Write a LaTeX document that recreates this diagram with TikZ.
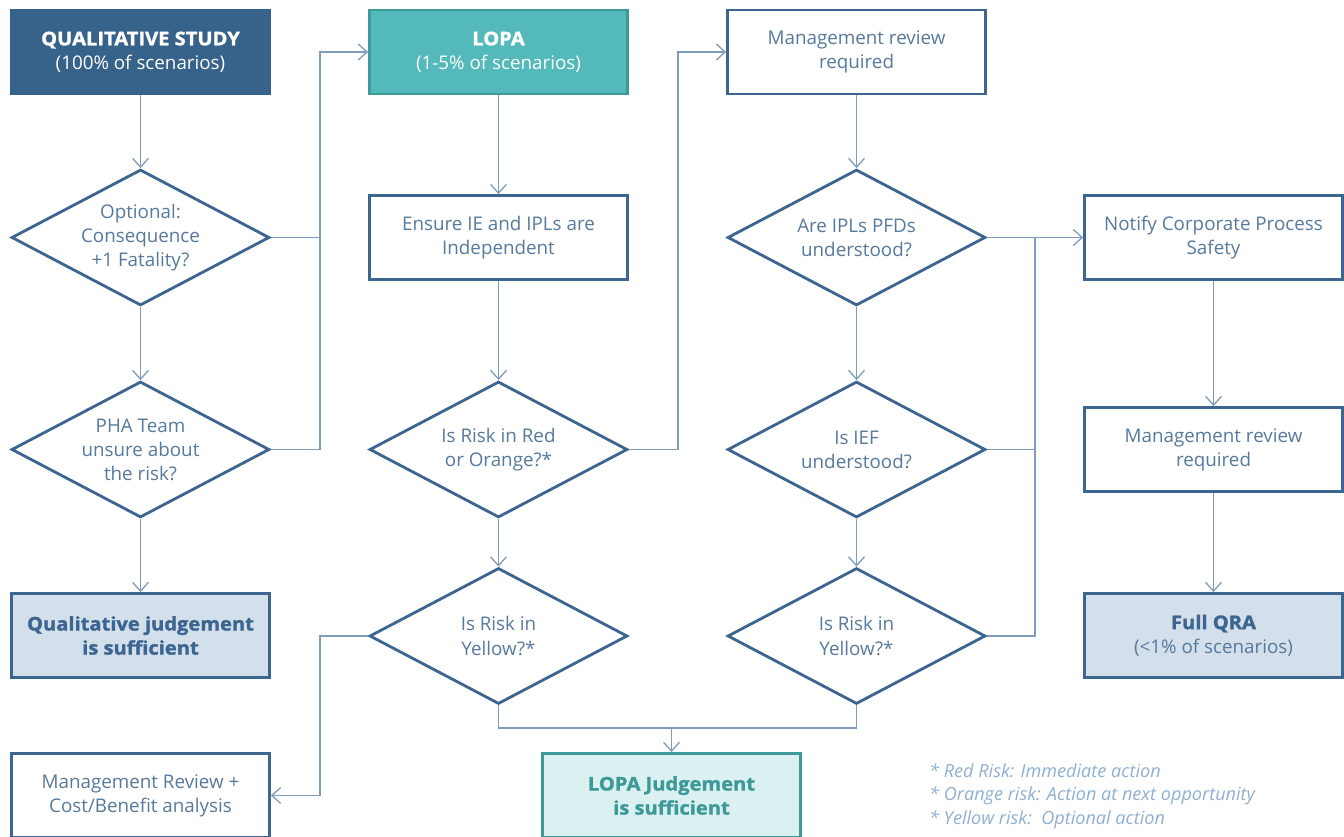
\documentclass[tikz,border=0pt]{standalone}
\usepackage{fontspec}
\setmainfont{Open Sans}[BoldFeatures={FakeBold=1.5,FakeStretch=1.07}]
\usetikzlibrary{shapes.geometric,arrows.meta}

\definecolor{darkblue}{HTML}{37628A}
\definecolor{edgeblue}{HTML}{3C6590}
\definecolor{txtblue}{HTML}{56799C}
\definecolor{lineblue}{HTML}{7E9DBC}
\definecolor{teal}{HTML}{53B9BB}
\definecolor{tealedge}{HTML}{3E9A98}
\definecolor{paleblue}{HTML}{D3DFEB}
\definecolor{paleteal}{HTML}{DBF0F1}
\definecolor{notecol}{HTML}{8FAFD1}

\begin{document}
\begin{tikzpicture}[x=0.02cm,y=-0.02cm,
    font=\fontsize{10.7}{13.7}\selectfont,
    box/.style={draw=edgeblue,line width=1.6pt,fill=white,text=txtblue,align=center,
                minimum width=5.16cm,minimum height=1.68cm,inner sep=2pt},
    startbox/.style={box,draw=darkblue,fill=darkblue,text=white},
    lopabox/.style={box,draw=tealedge,fill=teal,text=white},
    endbox/.style={box,fill=paleblue,text=edgeblue},
    lopaend/.style={box,draw=tealedge,fill=paleteal,text=tealedge},
    decision/.style={diamond,aspect=1.9,draw=edgeblue,line width=1.6pt,fill=white,
                text=txtblue,align=center,minimum width=5.16cm,minimum height=2.72cm,inner sep=0pt},
    line/.style={draw=lineblue,line width=0.75pt},
    conn/.style={line,-{Straight Barb[length=5pt,width=9pt]}}]

    \useasboundingbox (0,0) rectangle (1344,837);

    % Left column
    \node[startbox] (qs) at (140.5,52) {\textbf{QUALITATIVE STUDY}\\(100\% of scenarios)};
    \node[decision] (opt) at (140.5,237.5) {Optional:\\Consequence\\+1 Fatality?};
    \node[decision] (pha) at (140.5,449.5) {PHA Team\\unsure about\\the risk?};
    \node[endbox] (qualj) at (140.5,635.5) {\textbf{Qualitative judgement}\\\textbf{is sufficient}};
    \node[box] (mrcb) at (140.5,795.5) {Management Review +\\Cost/Benefit analysis};

    % Middle column
    \node[lopabox] (lopa) at (498.5,52) {\textbf{LOPA}\\(1-5\% of scenarios)};
    \node[box] (indep) at (498.5,237.5) {Ensure IE and IPLs are\\Independent};
    \node[decision] (redor) at (498.5,449.5) {Is Risk in Red\\or Orange?*};
    \node[decision] (yel1) at (498.5,636) {Is Risk in\\Yellow?*};
    \node[lopaend] (lopaj) at (671.5,795.5) {\textbf{LOPA Judgement}\\\textbf{is sufficient}};

    % Right-middle column
    \node[box] (mr1) at (856.5,52) {Management review\\required};
    \node[decision] (pfd) at (856.5,237.5) {Are IPLs PFDs\\understood?};
    \node[decision] (ief) at (856.5,449.5) {Is IEF\\understood?};
    \node[decision] (yel2) at (856.5,636) {Is Risk in\\Yellow?*};

    % Right column
    \node[box] (notify) at (1213.5,237.5) {Notify Corporate Process\\Safety};
    \node[box] (mr2) at (1213.5,449.5) {Management review\\required};
    \node[endbox] (qra) at (1213.5,635.5) {\textbf{Full QRA}\\{\color{txtblue}(<1\% of scenarios)}};

    % Note
    \node[anchor=west,align=left,text=notecol,font=\fontsize{10.3}{13.5}\selectfont\itshape]
        (note) at (923,796) {* Red Risk: Immediate action\\* Orange risk: Action at next opportunity\\* Yellow risk:\ \ Optional action};

    % Bus points
    \coordinate (busA) at (320,52);
    \coordinate (busB) at (678,52);
    \coordinate (busC) at (1035,237.5);
    \coordinate (busD) at (320,795.5);
    \coordinate (join) at (671.5,728);

    % Connectors
    \draw[conn] (qs) -- (opt);
    \draw[conn] (opt) -- (pha);
    \draw[conn] (pha) -- (qualj);
    \draw[line] (opt.east) -- (opt.east -| busA);
    \draw[conn] (pha.east) -| (busA) -- (lopa.west);

    \draw[conn] (lopa) -- (indep);
    \draw[conn] (indep) -- (redor);
    \draw[conn] (redor) -- (yel1);
    \draw[conn] (redor.east) -| (busB) -- (mr1.west);
    \draw[conn] (yel1.west) -| (busD) -- (mrcb.east);

    \draw[conn] (mr1) -- (pfd);
    \draw[conn] (pfd) -- (ief);
    \draw[conn] (ief) -- (yel2);
    \draw[conn] (pfd.east) -- (notify.west);
    \draw[line] (ief.east) -| (busC);
    \draw[line] (yel2.east) -| (busC);

    \draw[line] (yel1.south) |- (join);
    \draw[line] (yel2.south) |- (join);
    \draw[conn] (join) -- (lopaj.north);

    \draw[conn] (notify) -- (mr2);
    \draw[conn] (mr2) -- (qra);
\end{tikzpicture}
\end{document}
